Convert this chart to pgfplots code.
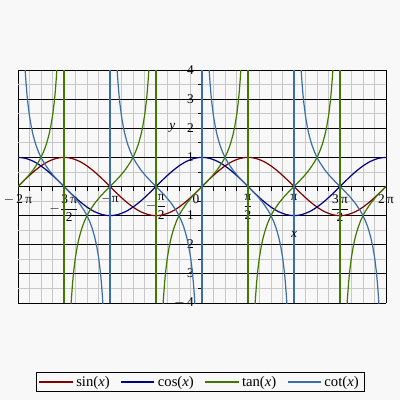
\documentclass[border=0pt]{standalone}
\usepackage{pgfplots}
\pgfplotsset{compat=1.18}
\usepackage{pgfplotstable}
\usepackage{fontspec}
\setmainfont{Liberation Serif}

\definecolor{bgc}{RGB}{248,248,248}
\definecolor{sinc}{RGB}{128,0,0}
\definecolor{cosc}{RGB}{0,0,128}
\definecolor{tanc}{RGB}{64,120,0}
\definecolor{cotc}{RGB}{58,110,168}
\definecolor{gridc}{RGB}{200,200,200}

% fraction tick labels in the text font
\newcommand{\fr}[2]{\displaystyle\frac{\hbox{#1}}{\hbox{#2}}}

% x in degrees, 15-degree samples
\pgfplotstableread{
x sin cos
-360 0 1
-345 0.2588 0.9659
-330 0.5 0.8660
-315 0.7071 0.7071
-300 0.8660 0.5
-285 0.9659 0.2588
-270 1 0
-255 0.9659 -0.2588
-240 0.8660 -0.5
-225 0.7071 -0.7071
-210 0.5 -0.8660
-195 0.2588 -0.9659
-180 0 -1
-165 -0.2588 -0.9659
-150 -0.5 -0.8660
-135 -0.7071 -0.7071
-120 -0.8660 -0.5
-105 -0.9659 -0.2588
-90 -1 0
-75 -0.9659 0.2588
-60 -0.8660 0.5
-45 -0.7071 0.7071
-30 -0.5 0.8660
-15 -0.2588 0.9659
0 0 1
15 0.2588 0.9659
30 0.5 0.8660
45 0.7071 0.7071
60 0.8660 0.5
75 0.9659 0.2588
90 1 0
105 0.9659 -0.2588
120 0.8660 -0.5
135 0.7071 -0.7071
150 0.5 -0.8660
165 0.2588 -0.9659
180 0 -1
195 -0.2588 -0.9659
210 -0.5 -0.8660
225 -0.7071 -0.7071
240 -0.8660 -0.5
255 -0.9659 -0.2588
270 -1 0
285 -0.9659 0.2588
300 -0.8660 0.5
315 -0.7071 0.7071
330 -0.5 0.8660
345 -0.2588 0.9659
360 0 1
}\sincos

% tangent branches, separated by nan
\pgfplotstableread{
x y
-360 0
-350 0.1763
-340 0.3640
-330 0.5774
-320 0.8391
-315 1
-310 1.1918
-305 1.4281
-300 1.7321
-296 2.0503
-292 2.4751
-289 2.9042
-287 3.2709
-285 3.7321
-284 4.0108
-283 4.3315
-270 nan
-257 -4.3315
-256 -4.0108
-255 -3.7321
-253 -3.2709
-251 -2.9042
-248 -2.4751
-244 -2.0503
-240 -1.7321
-235 -1.4281
-230 -1.1918
-225 -1
-220 -0.8391
-210 -0.5774
-200 -0.3640
-190 -0.1763
-180 0
-170 0.1763
-160 0.3640
-150 0.5774
-140 0.8391
-135 1
-130 1.1918
-125 1.4281
-120 1.7321
-116 2.0503
-112 2.4751
-109 2.9042
-107 3.2709
-105 3.7321
-104 4.0108
-103 4.3315
-90 nan
-77 -4.3315
-76 -4.0108
-75 -3.7321
-73 -3.2709
-71 -2.9042
-68 -2.4751
-64 -2.0503
-60 -1.7321
-55 -1.4281
-50 -1.1918
-45 -1
-40 -0.8391
-30 -0.5774
-20 -0.3640
-10 -0.1763
0 0
10 0.1763
20 0.3640
30 0.5774
40 0.8391
45 1
50 1.1918
55 1.4281
60 1.7321
64 2.0503
68 2.4751
71 2.9042
73 3.2709
75 3.7321
76 4.0108
77 4.3315
90 nan
103 -4.3315
104 -4.0108
105 -3.7321
107 -3.2709
109 -2.9042
112 -2.4751
116 -2.0503
120 -1.7321
125 -1.4281
130 -1.1918
135 -1
140 -0.8391
150 -0.5774
160 -0.3640
170 -0.1763
180 0
190 0.1763
200 0.3640
210 0.5774
220 0.8391
225 1
230 1.1918
235 1.4281
240 1.7321
244 2.0503
248 2.4751
251 2.9042
253 3.2709
255 3.7321
256 4.0108
257 4.3315
270 nan
283 -4.3315
284 -4.0108
285 -3.7321
287 -3.2709
289 -2.9042
292 -2.4751
296 -2.0503
300 -1.7321
305 -1.4281
310 -1.1918
315 -1
320 -0.8391
330 -0.5774
340 -0.3640
350 -0.1763
360 0
}\tandata

% cotangent branches, separated by nan
\pgfplotstableread{
x y
-347 4.3315
-346 4.0108
-345 3.7321
-343 3.2709
-341 2.9042
-338 2.4751
-334 2.0503
-330 1.7321
-325 1.4281
-320 1.1918
-315 1
-310 0.8391
-300 0.5774
-290 0.3640
-280 0.1763
-270 0
-260 -0.1763
-250 -0.3640
-240 -0.5774
-230 -0.8391
-225 -1
-220 -1.1918
-215 -1.4281
-210 -1.7321
-206 -2.0503
-202 -2.4751
-199 -2.9042
-197 -3.2709
-195 -3.7321
-194 -4.0108
-193 -4.3315
-180 nan
-167 4.3315
-166 4.0108
-165 3.7321
-163 3.2709
-161 2.9042
-158 2.4751
-154 2.0503
-150 1.7321
-145 1.4281
-140 1.1918
-135 1
-130 0.8391
-120 0.5774
-110 0.3640
-100 0.1763
-90 0
-80 -0.1763
-70 -0.3640
-60 -0.5774
-50 -0.8391
-45 -1
-40 -1.1918
-35 -1.4281
-30 -1.7321
-26 -2.0503
-22 -2.4751
-19 -2.9042
-17 -3.2709
-15 -3.7321
-14 -4.0108
-13 -4.3315
0 nan
13 4.3315
14 4.0108
15 3.7321
17 3.2709
19 2.9042
22 2.4751
26 2.0503
30 1.7321
35 1.4281
40 1.1918
45 1
50 0.8391
60 0.5774
70 0.3640
80 0.1763
90 0
100 -0.1763
110 -0.3640
120 -0.5774
130 -0.8391
135 -1
140 -1.1918
145 -1.4281
150 -1.7321
154 -2.0503
158 -2.4751
161 -2.9042
163 -3.2709
165 -3.7321
166 -4.0108
167 -4.3315
180 nan
193 4.3315
194 4.0108
195 3.7321
197 3.2709
199 2.9042
202 2.4751
206 2.0503
210 1.7321
215 1.4281
220 1.1918
225 1
230 0.8391
240 0.5774
250 0.3640
260 0.1763
270 0
280 -0.1763
290 -0.3640
300 -0.5774
310 -0.8391
315 -1
320 -1.1918
325 -1.4281
330 -1.7321
334 -2.0503
338 -2.4751
341 -2.9042
343 -3.2709
345 -3.7321
346 -4.0108
347 -4.3315
}\cotdata

\begin{document}
\begin{tikzpicture}
\fill[bgc] (0,0) rectangle (300pt,300pt);
\begin{axis}[
  at={(13.5pt,72.75pt)}, anchor=south west,
  scale only axis, width=276pt, height=174.75pt,
  xmin=-360, xmax=360, ymin=-4, ymax=4,
  axis lines=middle,
  axis line style={-, black, line width=0.6pt},
  hide obscured x ticks=false, hide obscured y ticks=false,
  xtick={-360,-270,-180,-90,0,90,180,270,360},
  minor x tick num=3,
  ytick={-4,-3,-2,-1,0,1,2,3,4},
  minor y tick num=1,
  grid=both,
  major grid style={black, line width=0.6pt},
  minor grid style={gridc, line width=0.6pt},
  tick align=outside,
  major tick length=3pt, minor tick length=3pt,
  tick style={black, line width=0.6pt},
  xticklabels={{$-$\,2\,π}, {$-\fr{3\,π}{2}$}, {$-$π}, {$-\fr{π}{2}$}, {0\hspace*{9pt}}, {$\fr{π}{2}$}, {π}, {$\fr{3\,π}{2}$}, {2\,π}},
  yticklabels={{$-$\,4},{$-$\,3},{$-$\,2},{$-$\,1},{},{1},{2},{3},{4}},
  xticklabel style={anchor=north, font=\fontsize{10}{11}\selectfont, inner sep=1pt, yshift=-2pt},
  yticklabel style={anchor=east, font=\fontsize{10}{11}\selectfont, inner sep=1pt, xshift=-2pt},
  xlabel={\textit{x}}, ylabel={\textit{y}},
  xlabel style={at={(axis cs:180,-1.65)}, anchor=center, font=\fontsize{10}{11}\selectfont},
  ylabel style={at={(axis cs:-58,2)}, anchor=center, font=\fontsize{10}{11}\selectfont},
  unbounded coords=jump,
  legend columns=4,
  legend style={at={(0.4946,-0.339)}, anchor=center, draw=black, line width=0.6pt, fill=bgc,
    font=\fontsize{11}{12}\selectfont, inner ysep=0.5pt, inner xsep=2pt,
    /tikz/every even column/.append style={column sep=6pt}},
  legend image code/.code={\draw[line width=1.2pt] (0pt,0pt) -- (25pt,0pt);},
]
\addplot[sinc, line width=0.9pt, smooth] table[x=x, y=sin] {\sincos};
\addlegendentry{sin(\textit{x})}
\addplot[cosc, line width=0.9pt, smooth] table[x=x, y=cos] {\sincos};
\addlegendentry{cos(\textit{x})}
\addplot[tanc, line width=0.9pt] table[x=x, y=y] {\tandata};
\addlegendentry{tan(\textit{x})}
\addplot[cotc, line width=0.9pt] table[x=x, y=y] {\cotdata};
\addlegendentry{cot(\textit{x})}
% jumps across the poles
\addplot[tanc, line width=2.2pt, forget plot] coordinates {(-270,-4) (-270,4) (-90,nan) (-90,-4) (-90,4) (90,nan) (90,-4) (90,4) (270,nan) (270,-4) (270,4)};
\addplot[cotc, line width=1.6pt, forget plot] coordinates {(-180,-4) (-180,4) (0,nan) (0,-4) (0,4) (180,nan) (180,-4) (180,4)};
\end{axis}
\pgfresetboundingbox
\useasboundingbox (0,0) rectangle (300pt,300pt);
\end{tikzpicture}
\end{document}
